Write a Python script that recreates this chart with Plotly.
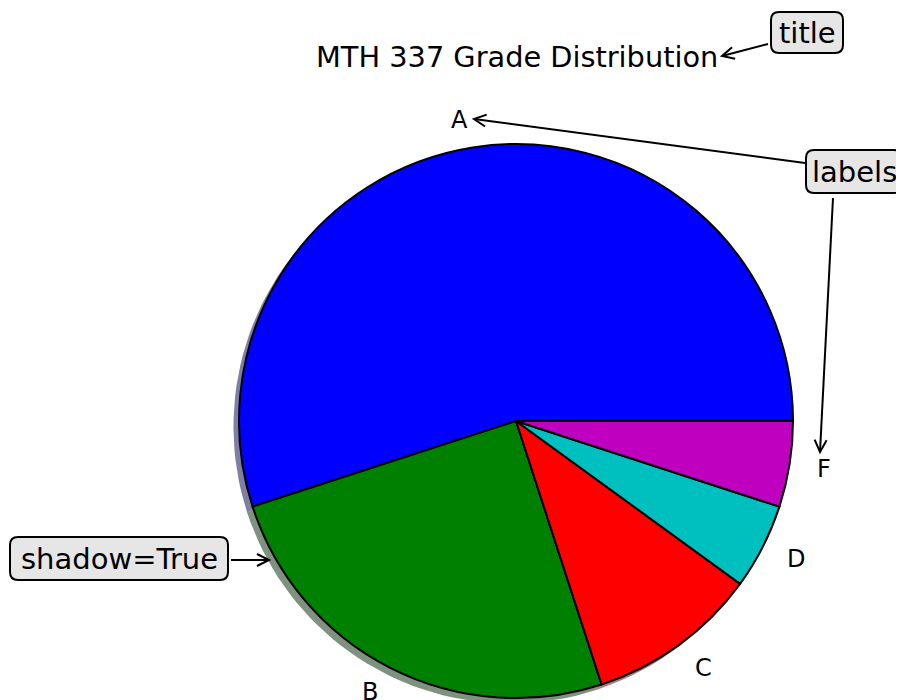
import math
import plotly.graph_objects as go

# ---- data ----
grades = ["A", "B", "C", "D", "F"]
counts = [11, 5, 2, 1, 1]
slice_colors = ["#0000ff", "#008000", "#ff0000", "#00bfbf", "#bf00bf"]
shadow_colors = ["rgba(0,0,77,0.5)", "rgba(0,38,0,0.5)", "rgba(77,0,0,0.5)",
                 "rgba(0,57,57,0.5)", "rgba(57,0,57,0.5)"]
chart_title = "MTH 337 Grade Distribution"

# ---- layout constants (page pixels) ----
PAGE_W, PAGE_H = 904, 700
OFF = 8                       # default page body margin
W, H = PAGE_W - OFF, PAGE_H - OFF
CX, CY, R = 516, 421, 277
FONT = "DejaVu Sans"
SHADOW_OFF = -0.02
LW = 2


def dx(px):
    return (px - CX) / R


def dy(py):
    return (CY - py) / R


fig = go.Figure()

total = sum(counts)

# shadow wedges (offset down-left), in pie units on hidden axes
cum = 0
for g, c, sc in zip(grades, counts, shadow_colors):
    a0 = 2 * math.pi * cum / total
    a1 = 2 * math.pi * (cum + c) / total
    cum += c
    n = max(4, int(160 * c / total) + 2)
    xs = [SHADOW_OFF]
    ys = [SHADOW_OFF]
    for i in range(n + 1):
        t = a0 + (a1 - a0) * i / n
        xs.append(math.cos(t) + SHADOW_OFF)
        ys.append(math.sin(t) + SHADOW_OFF)
    fig.add_trace(go.Scatter(x=xs, y=ys, mode="lines", fill="toself", fillcolor=sc,
                             line=dict(width=0), hoverinfo="skip", showlegend=False))

# main pie: first wedge starts at 3 o'clock, counterclockwise
fig.add_trace(go.Pie(
    labels=grades, values=counts, sort=False, direction="counterclockwise",
    rotation=90 - 360 * counts[0] / total, textinfo="none", showlegend=False,
    marker=dict(colors=slice_colors, line=dict(color="black", width=LW)),
    domain=dict(x=[(CX - R - OFF) / W, (CX + R - OFF) / W],
                y=[(PAGE_H - (CY + R)) / H, (PAGE_H - (CY - R)) / H])))

annotations = []
shapes = []

# wedge labels at 1.1 radius
cum = 0
for g, c in zip(grades, counts):
    mid = 2 * math.pi * (cum + c / 2) / total
    cum += c
    x, y = 1.1 * math.cos(mid), 1.1 * math.sin(mid)
    annotations.append(dict(x=x, y=y, xref="x", yref="y", text=g, showarrow=False,
                            xanchor="left" if x > 0 else "right", yanchor="middle",
                            xshift=-2 if x > 0 else 2,
                            font=dict(family=FONT, size=24, color="black")))

# title
annotations.append(dict(x=dx(516.5), y=dy(57), xref="x", yref="y", text=chart_title,
                        showarrow=False, xanchor="center", yanchor="middle",
                        font=dict(family=FONT, size=28.8, color="black")))


def rounded_box(x0, y0, x1, y1, r=8):
    p = (f"M {dx(x0 + r)},{dy(y0)} L {dx(x1 - r)},{dy(y0)} "
         f"Q {dx(x1)},{dy(y0)} {dx(x1)},{dy(y0 + r)} "
         f"L {dx(x1)},{dy(y1 - r)} Q {dx(x1)},{dy(y1)} {dx(x1 - r)},{dy(y1)} "
         f"L {dx(x0 + r)},{dy(y1)} Q {dx(x0)},{dy(y1)} {dx(x0)},{dy(y1 - r)} "
         f"L {dx(x0)},{dy(y0 + r)} Q {dx(x0)},{dy(y0)} {dx(x0 + r)},{dy(y0)} Z")
    shapes.append(dict(type="path", path=p, xref="x", yref="y",
                       fillcolor="#e6e6e6", line=dict(color="black", width=LW),
                       layer="above"))


def arrow(x0, y0, x1, y1, L=12, hw=6):
    ang = math.atan2(y1 - y0, x1 - x0)
    ux, uy = math.cos(ang), math.sin(ang)
    bx, by = x1 - L * ux, y1 - L * uy
    ax1, ay1 = bx - hw * uy, by + hw * ux
    ax2, ay2 = bx + hw * uy, by - hw * ux
    shapes.append(dict(type="line", x0=dx(x0), y0=dy(y0), x1=dx(x1), y1=dy(y1),
                       xref="x", yref="y", line=dict(color="black", width=LW),
                       layer="above"))
    p = f"M {dx(ax1)},{dy(ay1)} L {dx(x1)},{dy(y1)} L {dx(ax2)},{dy(ay2)}"
    shapes.append(dict(type="path", path=p, xref="x", yref="y",
                       line=dict(color="black", width=LW), layer="above"))


def label_box(text, x0, y0, x1, y1):
    rounded_box(x0, y0, x1, y1)
    annotations.append(dict(x=dx((x0 + x1) / 2), y=dy((y0 + y1) / 2), xref="x", yref="y",
                            text=text, showarrow=False, xanchor="center", yanchor="middle",
                            font=dict(family=FONT, size=29, color="black")))


label_box("title", 771, 12, 843, 53)
arrow(768, 44, 722, 56)

label_box("labels", 806, 150, 902, 193)
arrow(805, 163, 474, 119)
arrow(833, 198, 820, 452)

label_box("shadow=True", 10, 537, 228, 580)
arrow(231, 560, 269, 560)

fig.update_layout(
    width=W, height=H, margin=dict(l=0, r=0, t=0, b=0),
    paper_bgcolor="white", plot_bgcolor="rgba(0,0,0,0)",
    xaxis=dict(range=[dx(OFF), dx(PAGE_W)], visible=False, domain=[0, 1]),
    yaxis=dict(range=[dy(PAGE_H), dy(OFF)], visible=False, domain=[0, 1]),
    annotations=annotations, shapes=shapes,
)

fig.write_html("out.html")
